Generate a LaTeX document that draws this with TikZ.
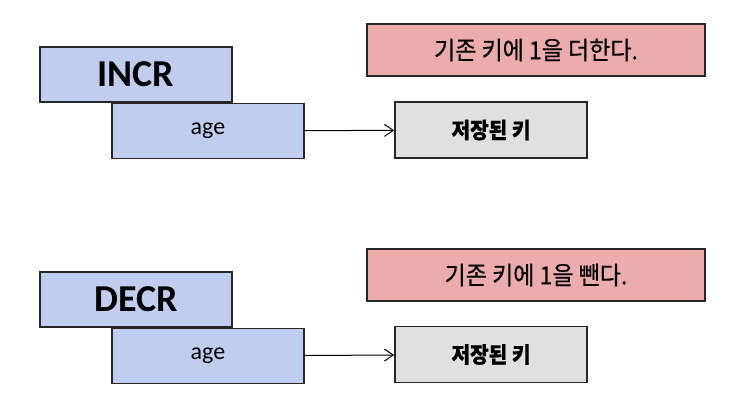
\documentclass[tikz,border=0pt]{standalone}
\usepackage{fontspec}
\usepackage{tikz}
\usepackage{xcolor}
\usetikzlibrary{positioning,arrows.meta}
\setmainfont{Carlito}
\newfontfamily\kor[FakeStretch=0.92,FakeBold=0.5]{Noto Sans CJK KR}
\definecolor{cmdblue}{RGB}{193,205,238}
\definecolor{notered}{RGB}{236,172,172}
\definecolor{keygray}{RGB}{224,224,224}
\definecolor{edge}{RGB}{38,38,38}
\begin{document}
\begin{tikzpicture}[x=1pt,y=1pt]
\tikzstyle{every node}+=[inner sep=0pt]
\tikzstyle{cmdbox}=[draw=edge,line width=1.5pt,fill=cmdblue,minimum width=192pt,minimum height=55pt]
\tikzstyle{notebox}=[draw=edge,line width=1.5pt,fill=notered,minimum width=338pt,minimum height=52pt]
\tikzstyle{keybox}=[draw=edge,line width=1.5pt,fill=keygray,minimum width=192pt,minimum height=56pt]
\useasboundingbox (0,0) rectangle (746,-402);
% INCR
\node [cmdbox,font=\bfseries\fontsize{38}{42}\selectfont] (incr) at (136,-74.5) {INCR};
\node [cmdbox,anchor=north west,font=\fontsize{24}{28}\selectfont] (agea) at ([xshift=72pt]incr.south west) {age};
\node [keybox,font=\kor\bfseries\fontsize{22}{26}\selectfont] (keya) at (491,-130) {저장된 키};
\node [notebox,font=\kor\fontsize{25}{29}\selectfont] (notea) at (536,-50) {기존 키에 1을 더한다.};
\draw [line width=1pt,-{Straight Barb[length=9pt,width=12pt]}] (agea) -- (keya);
% DECR
\node [cmdbox,font=\bfseries\fontsize{38}{42}\selectfont] (decr) at (136,-299.5) {DECR};
\node [cmdbox,anchor=north west,font=\fontsize{24}{28}\selectfont] (ageb) at ([xshift=72pt]decr.south west) {age};
\node [keybox,font=\kor\bfseries\fontsize{22}{26}\selectfont] (keyb) at (491,-354.5) {저장된 키};
\node [notebox,font=\kor\fontsize{25}{29}\selectfont] (noteb) at (536,-275) {기존 키에 1을 뺀다.};
\draw [line width=1pt,-{Straight Barb[length=9pt,width=12pt]}] (ageb) -- (keyb);
\end{tikzpicture}
\end{document}
